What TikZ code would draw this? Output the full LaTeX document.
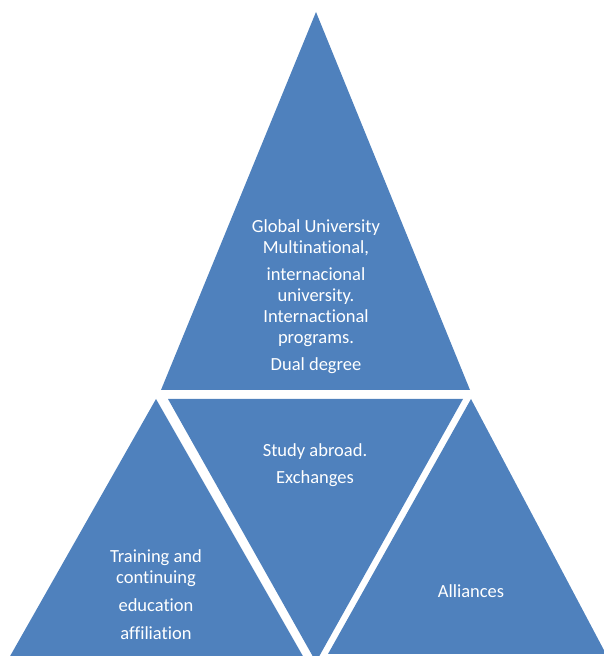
\documentclass[tikz,border=0pt]{standalone}
\usepackage{fontspec}
\setmainfont{Carlito}[Ligatures=NoCommon]
\definecolor{triblue}{RGB}{79,129,189}
\begin{document}
\begin{tikzpicture}[x=1pt, y=1pt,
    tri/.style={fill=triblue},
    lbl/.style={text=white, align=center, font=\fontsize{18.5}{21}\selectfont}]
	\useasboundingbox (0,0) rectangle (603,656);
	% four triangles
	\fill[tri] (316,644) -- (161,266) -- (470,266) -- cycle;
	\fill[tri] (168,257) -- (463,257) -- (316,-6) -- cycle;
	\fill[tri] (156,257) -- (9,-2) -- (304,-2) -- cycle;
	\fill[tri] (471,257) -- (328,2) -- (606,2) -- cycle;

	\node[lbl] (global) at (316,359) {Global University\\Multinational,\\[6pt]internacional\\university.\\Internactional\\programs.\\[6pt]Dual degree};
	\node[lbl] (study) at (315,191) {Study abroad.\\[6pt]Exchanges};
	\node[lbl] (training) at (156,61) {Training and\\continuing\\[7pt]education\\[7pt]affiliation};
	\node[lbl] (alliances) at (471,65) {Alliances};
\end{tikzpicture}
\end{document}
